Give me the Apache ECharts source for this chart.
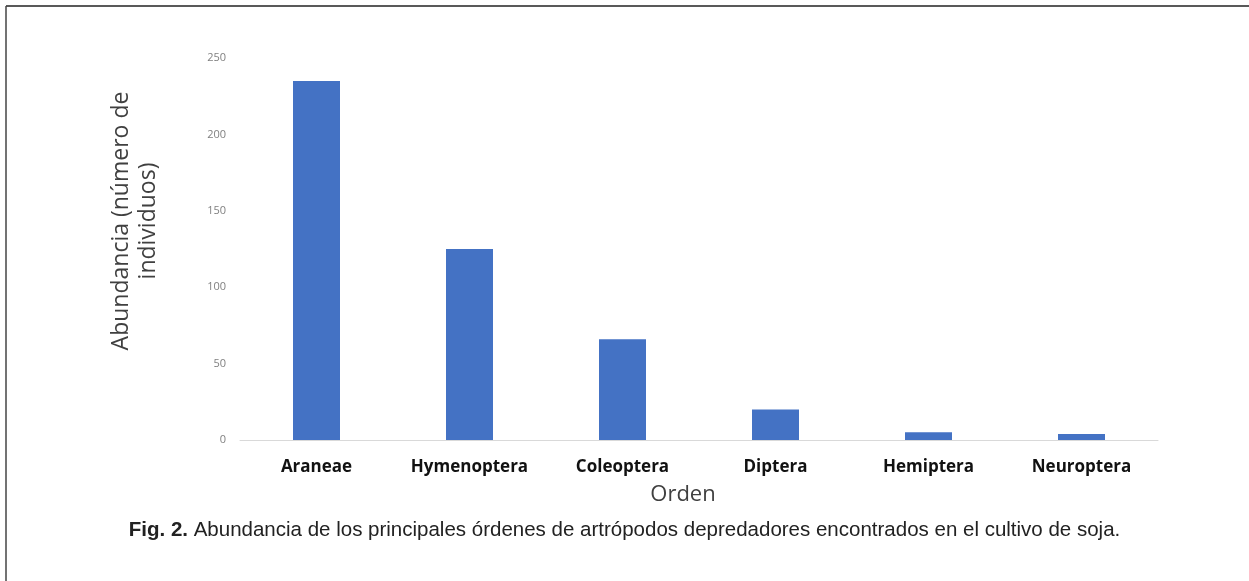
<!DOCTYPE html>
<html>
<head>
<meta charset="utf-8">
<script src="https://cdn.jsdelivr.net/npm/echarts@6/dist/echarts.min.js"></script>
<style>
  html, body { margin: 0; padding: 0; background: #fff; }
  #chart { width: 1249px; height: 581px; }
</style>
</head>
<body>
<div id="chart"></div>
<script>
var categories = ['Araneae', 'Hymenoptera', 'Coleoptera', 'Diptera', 'Hemiptera', 'Neuroptera'];
var abundance = [235, 125, 66, 20, 5, 4];
var yTicks = [0, 50, 100, 150, 200, 250];

var myChart = echarts.init(document.getElementById('chart'));

var option = {
    backgroundColor: '#fff',
    animation: false,
    grid: {
        left: 240,
        right: 91,
        top: 58,
        bottom: 141
    },
    xAxis: [
        {
            type: 'category',
            data: categories,
            name: 'Orden',
            nameLocation: 'middle',
            nameGap: 44,
            nameTextStyle: {
                fontFamily: 'Open Sans',
                fontSize: 22,
                color: '#404040',
                padding: [0, 32, 0, 0]
            },
            axisLine: {
                lineStyle: { color: '#d9d9d9', width: 1 }
            },
            axisTick: { show: false },
            axisLabel: {
                margin: 19,
                fontFamily: 'Open Sans',
                fontWeight: 'bold',
                fontSize: 17,
                color: '#111'
            }
        }
    ],
    yAxis: [
        {
            type: 'value',
            min: yTicks[0],
            max: yTicks[yTicks.length - 1],
            interval: 50,
            axisLine: { show: false },
            axisTick: { show: false },
            splitLine: { show: false },
            axisLabel: {
                margin: 14,
                fontFamily: 'Open Sans',
                fontSize: 11,
                color: '#808080'
            }
        }
    ],
    series: [
        {
            type: 'bar',
            data: abundance,
            barWidth: 47,
            itemStyle: { color: '#4472c4' }
        }
    ],
    graphic: [
        {
            type: 'line',
            shape: { x1: 6, y1: 6, x2: 1249, y2: 6 },
            style: { stroke: '#222', lineWidth: 1.5 }
        },
        {
            type: 'line',
            shape: { x1: 6, y1: 6, x2: 6, y2: 581 },
            style: { stroke: '#444', lineWidth: 1.5 }
        },
        {
            type: 'text',
            x: 135,
            y: 221,
            rotation: Math.PI / 2,
            style: {
                text: 'Abundancia (número de\nindividuos)',
                fontFamily: 'Open Sans',
                fontSize: 23,
                lineHeight: 27,
                fill: '#404040',
                align: 'center',
                verticalAlign: 'middle'
            }
        },
        {
            type: 'text',
            left: 'center',
            top: 520,
            style: {
                rich: {
                    b: { fontFamily: 'Liberation Sans', fontWeight: 'bold', fontSize: 20.5, fill: '#222' },
                    n: { fontFamily: 'Liberation Sans', fontSize: 20.5, fill: '#222' }
                },
                text: '{b|Fig. 2.}{n| Abundancia de los principales órdenes de artrópodos depredadores encontrados en el cultivo de soja.}'
            }
        }
    ]
};

myChart.setOption(option);
</script>
</body>
</html>
